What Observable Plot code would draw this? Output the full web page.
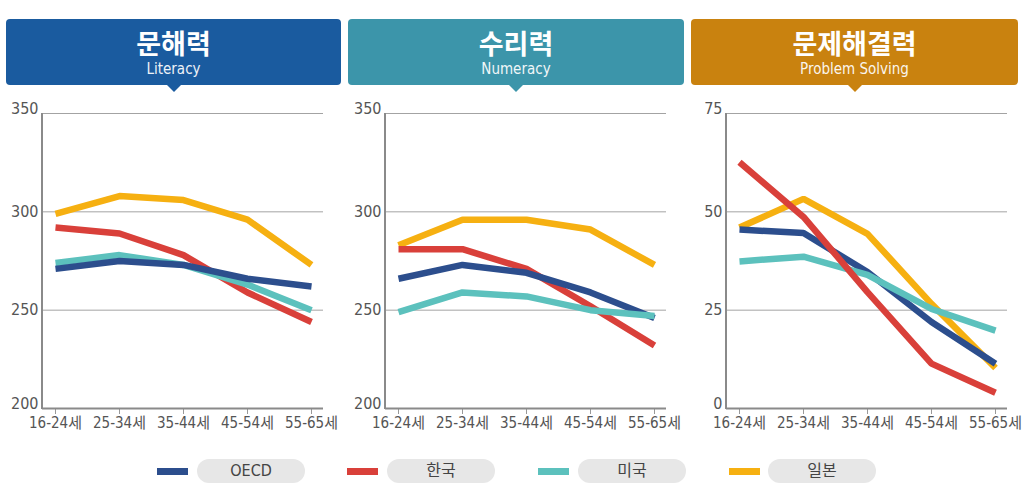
<!DOCTYPE html>
<html>
<head>
<meta charset="utf-8">
<script src="https://cdn.jsdelivr.net/npm/d3@7"></script>
<script src="https://cdn.jsdelivr.net/npm/@observablehq/plot@0.6"></script>
<style>
  html, body { margin: 0; padding: 0; background: #fff; }
  #root { position: relative; width: 1024px; height: 502px; overflow: hidden; }
  .hdr { position: absolute; top: 19px; height: 66px; border-radius: 4px; color: #fff; text-align: center; }
  .hdr .t { font-family: "Noto Sans CJK KR", "Noto Sans", sans-serif; font-weight: 700; font-size: 27px; line-height: 27px; height: 27px; margin-top: 10px; }
  .hdr .s { font-family: "DejaVu Sans Condensed", "Noto Sans", sans-serif; font-size: 15px; line-height: 16px; height: 16px; margin-top: 5px; opacity: 0.92; }
  .hdr .tri { position: absolute; left: 50%; bottom: -7px; margin-left: -7px; width: 0; height: 0; border-left: 7px solid transparent; border-right: 7px solid transparent; border-top: 7px solid; }
  .panel { position: absolute; top: 100px; }
  .leg-sw { position: absolute; top: 468px; width: 31px; height: 7px; }
  .leg-pill { position: absolute; top: 459px; height: 24px; width: 108px; border-radius: 12px; background: #e7e7e7; color: #444; text-align: center; line-height: 24px; font-family: "DejaVu Sans Condensed", "Noto Sans CJK KR", sans-serif; font-size: 16px; }
</style>
</head>
<body>
<div id="root"></div>
<script>
// ---- Data ----
const ages = ["16-24세", "25-34세", "35-44세", "45-54세", "55-65세"];
const seriesNames = ["OECD", "한국", "미국", "일본"];
const seriesColors = ["#2c4e8d", "#d9403a", "#5cc1bd", "#f6b011"];

const panelTitles = ["문해력", "수리력", "문제해결력"];
const panelSubtitles = ["Literacy", "Numeracy", "Problem Solving"];

// Literacy (문해력)
const literacyOECD  = [271, 275, 273, 266, 262];
const literacyKorea = [292, 289, 278, 259, 244];
const literacyUSA   = [274, 278, 273, 263, 250];
const literacyJapan = [299, 308, 306, 296, 273];

// Numeracy (수리력)
const numeracyOECD  = [266, 273, 269, 259, 246];
const numeracyKorea = [281, 281, 271, 252, 232];
const numeracyUSA   = [249, 259, 257, 250, 247];
const numeracyJapan = [283, 296, 296, 291, 273];

// Problem solving (문제해결력)
const problemOECD  = [45.5, 44.6, 34.7, 22.0, 11.4];
const problemKorea = [62.6, 48.7, 29.6, 11.4, 4.0];
const problemUSA   = [37.4, 38.6, 34.0, 25.3, 19.8];
const problemJapan = [46.0, 53.3, 44.4, 26.6, 10.3];

const yTicksScore = [200, 250, 300, 350];
const yTicksProblem = [0, 25, 50, 75];

// ---- Layout / styling ----
const headerColors = ["#1a5b9f", "#3c95aa", "#c9820f"];
const headerBoxes = [[6, 335], [348, 336], [691, 327]];
const panelLayout = [
  { left: 0,   marginLeft: 42, width: 345 },
  { left: 345, marginLeft: 40, width: 345 },
  { left: 690, marginLeft: 36, width: 334 }
];
// drawing order per panel (index into seriesNames), last on top
const drawOrders = [[3, 1, 2, 0], [3, 1, 0, 2], [3, 0, 2, 1]];

const panelData = [
  { values: [literacyOECD, literacyKorea, literacyUSA, literacyJapan], ticks: yTicksScore },
  { values: [numeracyOECD, numeracyKorea, numeracyUSA, numeracyJapan], ticks: yTicksScore },
  { values: [problemOECD, problemKorea, problemUSA, problemJapan], ticks: yTicksProblem }
];

const root = document.getElementById("root");
const tickFont = '"DejaVu Sans Condensed", "Noto Sans CJK KR", sans-serif';

panelData.forEach((p, i) => {
  // header
  const h = document.createElement("div");
  h.className = "hdr";
  h.style.left = headerBoxes[i][0] + "px";
  h.style.width = headerBoxes[i][1] + "px";
  h.style.background = headerColors[i];
  h.innerHTML = `<div class="t">${panelTitles[i]}</div><div class="s">${panelSubtitles[i]}</div><div class="tri" style="border-top-color:${headerColors[i]}"></div>`;
  root.appendChild(h);

  // rows
  const rows = [];
  drawOrders[i].forEach(si => {
    p.values[si].forEach((v, k) => rows.push({ series: seriesNames[si], age: ages[k], value: v }));
  });

  const L = panelLayout[i];
  const height = 340, marginTop = 13, marginBottom = 32;
  const ticks = p.ticks;
  const chart = Plot.plot({
    width: L.width,
    height,
    marginLeft: L.marginLeft,
    marginRight: L.width - L.marginLeft - 281,
    marginTop,
    marginBottom,
    style: { fontFamily: tickFont, fontSize: "16px", color: "#555", background: "transparent", overflow: "visible" },
    x: { type: "point", domain: ages, padding: 0.18, label: null },
    y: { domain: [ticks[0], ticks[3]], label: null },
    color: { domain: seriesNames, range: seriesColors },
    marks: [
      Plot.ruleY(ticks.slice(1), { stroke: "#a3a3a3", strokeWidth: 1 }),
      Plot.axisY([ticks[1], ticks[2]], { tickSize: 0, tickPadding: 4, fontSize: 16, fill: "#555", label: null }),
      Plot.axisY([ticks[0], ticks[3]], { tickSize: 0, tickPadding: 4, fontSize: 16, fill: "#555", dy: -5, label: null }),
      Plot.axisX({ tickSize: 6, tickPadding: 3, stroke: "#999", fontSize: 15, fill: "#555", label: null }),
      Plot.lineY(rows, {
        x: "age", y: "value", z: "series", stroke: "series",
        strokeWidth: 6.5, strokeLinejoin: "miter", strokeLinecap: "butt", sort: null
      }),
      Plot.ruleY([ticks[0]], { stroke: "#8a8a8a", strokeWidth: 2 })
    ]
  });
  // left axis line, from the layout margins
  d3.select(chart).append("line")
    .attr("x1", L.marginLeft).attr("x2", L.marginLeft)
    .attr("y1", marginTop).attr("y2", height - marginBottom + 1)
    .attr("stroke", "#8a8a8a").attr("stroke-width", 2);

  const wrap = document.createElement("div");
  wrap.className = "panel";
  wrap.style.left = L.left + "px";
  wrap.appendChild(chart);
  root.appendChild(wrap);
});

// legend
const swX = [157, 347, 538, 729];
const pillX = [197, 387, 578, 768];
seriesNames.forEach((s, i) => {
  const sw = document.createElement("div");
  sw.className = "leg-sw";
  sw.style.left = swX[i] + "px";
  sw.style.background = seriesColors[i];
  root.appendChild(sw);
  const pill = document.createElement("div");
  pill.className = "leg-pill";
  pill.style.left = pillX[i] + "px";
  pill.textContent = s;
  root.appendChild(pill);
});
</script>
</body>
</html>
